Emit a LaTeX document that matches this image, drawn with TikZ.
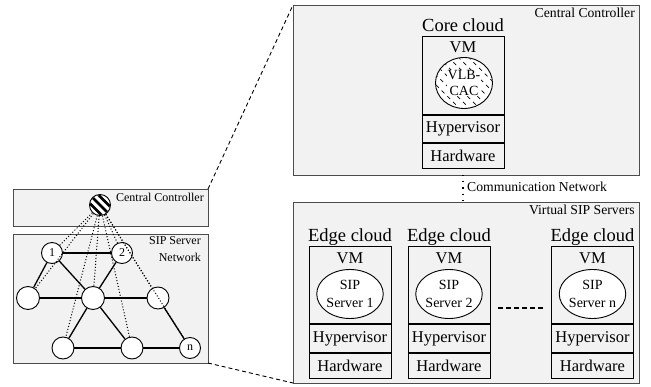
\documentclass[tikz,border=0pt]{standalone}
\usepackage{fontspec}
\setmainfont{Liberation Serif}
\usetikzlibrary{positioning}
\usetikzlibrary{calc}
\usetikzlibrary{shapes.geometric}

\definecolor{panelgray}{HTML}{F2F2F2}

\tikzset{
  panel/.style={draw=black!70, fill=panelgray, line width=0.7pt, inner sep=0pt, outer sep=0pt},
  layer/.style={draw, fill=panelgray, line width=0.7pt, inner sep=0pt, outer sep=0pt,
    minimum width=82pt, font=\fontsize{16.5}{18}\selectfont},
  host/.style={circle, draw, fill=white, line width=0.9pt, minimum size=21pt, inner sep=0pt,
    font=\fontsize{12}{12}\selectfont},
  link/.style={line width=1.3pt},
  ctrl/.style={line width=1pt, dash pattern=on 1pt off 2pt},
  vmproc/.style={ellipse, draw, fill=white, line width=0.9pt, minimum width=57pt,
    minimum height=49pt, inner sep=0pt, align=center, font=\fontsize{14}{18}\selectfont},
  vmlabel/.style={anchor=base, inner sep=0pt, font=\fontsize{16.5}{18}\selectfont},
  cloudname/.style={anchor=base, inner sep=0pt, font=\fontsize{18.5}{20}\selectfont},
  tag/.style={inner sep=0pt, font=\fontsize{13.7}{16}\selectfont},
  smalltag/.style={inner sep=0pt, font=\fontsize{12}{17}\selectfont},
  sep/.style={line width=1.4pt},
}

\begin{document}
\begin{tikzpicture}[x=1pt, y=-1pt]
\useasboundingbox (0,0) rectangle (651,387);

% network view
\node[panel, minimum width=195pt, minimum height=37pt] (ccsmall) at (110.5,207.5) {};
\node[panel, minimum width=195pt, minimum height=129pt] (sipnet) at (110.5,298.5) {};
\node[smalltag, anchor=base east] (cclabel) at (204,202) {Central Controller};
\node[smalltag, anchor=north east, align=right] (netlabel) at (201,236.5) {SIP Server\\Network};

\node[host] (cc) at (100,205) {};
\begin{scope}
  \clip (cc.center) circle (10);
  \foreach \k in {-2,...,2}
    \draw[line width=2.5pt] ($(cc.center)+(\k*8.5-14,-14)$) -- ++(28,28);
\end{scope}
\node[host] (h1) at (52,253) {1};
\node[host] (h2) at (122,253) {2};
\node[host, minimum size=23pt] (hl) at (28,298) {};
\node[host, minimum size=23pt] (hc) at (93,298) {};
\node[host, minimum size=22pt] (hr) at (158,298) {};
\node[host, minimum size=22pt] (hbl) at (63,348) {};
\node[host, minimum size=22pt] (hbc) at (132,348) {};
\node[host] (hn) at (190,348) {n};

\draw[link] (h1) -- (h2);
\draw[link] (h1) -- (hl);
\draw[link] (h1) -- (hc);
\draw[link] (h2) -- (hc);
\draw[link] (hl) -- (hc) -- (hr);
\draw[link] (hc) -- (hbl);
\draw[link] (hc) -- (hbc);
\draw[link] (hbl) -- (hbc) -- (hn);
\draw[link] (hr) -- (hn);

\foreach \t in {h1, hl, hbl, hc, h2, hbc, hr, hn}
  \draw[ctrl] (cc) -- (\t);

% cloud view
\node[panel, minimum width=346pt, minimum height=170pt] (ccbig) at (466,90) {};
\node[panel, minimum width=346pt, minimum height=181pt] (vsip) at (466,292.5) {};
\node[tag, anchor=base east] (cctag) at (635,18) {Central Controller};
\node[tag, anchor=base east] (vsiptag) at (635,215) {Virtual SIP Servers};

\draw[dash pattern=on 4pt off 3pt, line width=0.9pt] (ccsmall.north east) -- (ccbig.north west);
\draw[dash pattern=on 4pt off 3pt, line width=0.9pt] (sipnet.south east) -- (vsip.south west);

% core cloud
\node[cloudname] (coretitle) at (463,32) {Core cloud};
\node[layer, minimum height=79pt] (vm0) at (463,75.5) {};
\node[layer, minimum height=28pt, below=0pt of vm0] (hyp0) {Hypervisor};
\node[layer, minimum height=25pt, below=0pt of hyp0] (hw0) {Hardware};
\draw[sep] (hyp0.north west) -- (hyp0.north east) (hw0.north west) -- (hw0.north east);
\node[vmlabel] (vmlab0) at (463,53) {VM};
\node[vmproc, minimum height=51pt] (vlb) at (464,83) {};
\begin{scope}
  \clip (vlb.center) ellipse [x radius=28, y radius=25];
  \foreach \k in {-5,...,5}
    \draw[line width=0.7pt, dash pattern=on 4pt off 4pt] ($(vlb.center)+(\k*10-32,-32)$) -- ++(64,64);
\end{scope}
\node[fill=white, inner sep=0.5pt, align=center, font=\fontsize{14}{16}\selectfont] (vlbtext) at (vlb) {VLB-\\CAC};

\draw[line width=1.1pt, dash pattern=on 1.2pt off 5pt] (ccbig.south -| vm0.center) -- (vsip.north -| vm0.center);
\node[tag, anchor=base west] (commlabel) at (467,192) {Communication Network};

% edge clouds
\foreach \x/\i in {350/1, 449/2, 592.5/n} {
  \node[cloudname] (title\i) at (\x,242) {Edge cloud};
  \node[layer, minimum height=78pt] (vm\i) at (\x,285) {};
  \node[layer, minimum height=29pt, below=0pt of vm\i] (hyp\i) {Hypervisor};
  \node[layer, minimum height=25pt, below=0pt of hyp\i] (hw\i) {Hardware};
  \draw[sep] (hyp\i.north west) -- (hyp\i.north east) (hw\i.north west) -- (hw\i.north east);
  \node[vmlabel] (vmlab\i) at (\x,264) {VM};
  \node[vmproc] (sip\i) at (\x,294) {SIP\\Server \i};
}

\coordinate (gapa) at (498,308);
\coordinate (gapb) at (545,308);
\draw[line width=1.1pt, dash pattern=on 5pt off 3pt] (gapa) -- (gapb);

\end{tikzpicture}
\end{document}
